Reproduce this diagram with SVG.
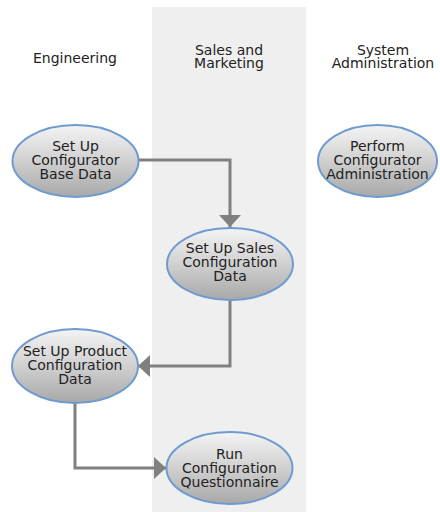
<svg xmlns="http://www.w3.org/2000/svg" width="440" height="512" viewBox="0 0 440 512">
<defs>
<linearGradient id="g" x1="0" y1="0" x2="0" y2="1">
<stop offset="0" stop-color="#f4f4f4"/>
<stop offset="0.45" stop-color="#d4d4d4"/>
<stop offset="1" stop-color="#a8a8a8"/>
</linearGradient>
<marker id="arr" markerWidth="12" markerHeight="22" refX="12" refY="11" orient="auto" markerUnits="userSpaceOnUse">
<path d="M0,0 L12,11 L0,22 Z" fill="#808080"/>
</marker>
<style>
.n{fill:url(#g);stroke:#6f9bd0;stroke-width:2}
.t{font-family:"DejaVu Sans",Verdana,sans-serif;font-size:14px;fill:#222;text-anchor:middle}
.c{fill:none;stroke:#808080;stroke-width:3}
</style>
</defs>
<rect id="lane-bg" x="152" y="7" width="154" height="505" fill="#efefef"/>
<g id="lanes">
<text class="t" x="75" y="63">Engineering</text>
<text class="t" x="229" y="55">Sales and</text>
<text class="t" x="229" y="68">Marketing</text>
<text class="t" x="383" y="55">System</text>
<text class="t" x="383" y="68">Administration</text>
</g>
<g id="connectors">
<path class="c" d="M139,160 H230 V227" marker-end="url(#arr)"/>
<path class="c" d="M230,300 V366 H138" marker-end="url(#arr)"/>
<path class="c" d="M75,403 V468 H166" marker-end="url(#arr)"/>
</g>
<g id="n1">
<ellipse class="n" cx="75.5" cy="161" rx="63" ry="36"/>
<text class="t" x="75.5" y="151">Set Up</text>
<text class="t" x="75.5" y="165">Configurator</text>
<text class="t" x="75.5" y="179">Base Data</text>
</g>
<g id="n2">
<ellipse class="n" cx="230" cy="264" rx="63" ry="36"/>
<text class="t" x="230" y="253">Set Up Sales</text>
<text class="t" x="230" y="267">Configuration</text>
<text class="t" x="230" y="281">Data</text>
</g>
<g id="n3">
<ellipse class="n" cx="75" cy="366" rx="63" ry="37"/>
<text class="t" x="75" y="356">Set Up Product</text>
<text class="t" x="75" y="370">Configuration</text>
<text class="t" x="75" y="384">Data</text>
</g>
<g id="n4">
<ellipse class="n" cx="229.5" cy="468" rx="63" ry="36"/>
<text class="t" x="229.5" y="459">Run</text>
<text class="t" x="229.5" y="473">Configuration</text>
<text class="t" x="229.5" y="487">Questionnaire</text>
</g>
<g id="n5">
<ellipse class="n" cx="377.5" cy="161" rx="59.5" ry="36"/>
<text class="t" x="377.5" y="151">Perform</text>
<text class="t" x="377.5" y="165">Configurator</text>
<text class="t" x="377.5" y="179">Administration</text>
</g>
</svg>
